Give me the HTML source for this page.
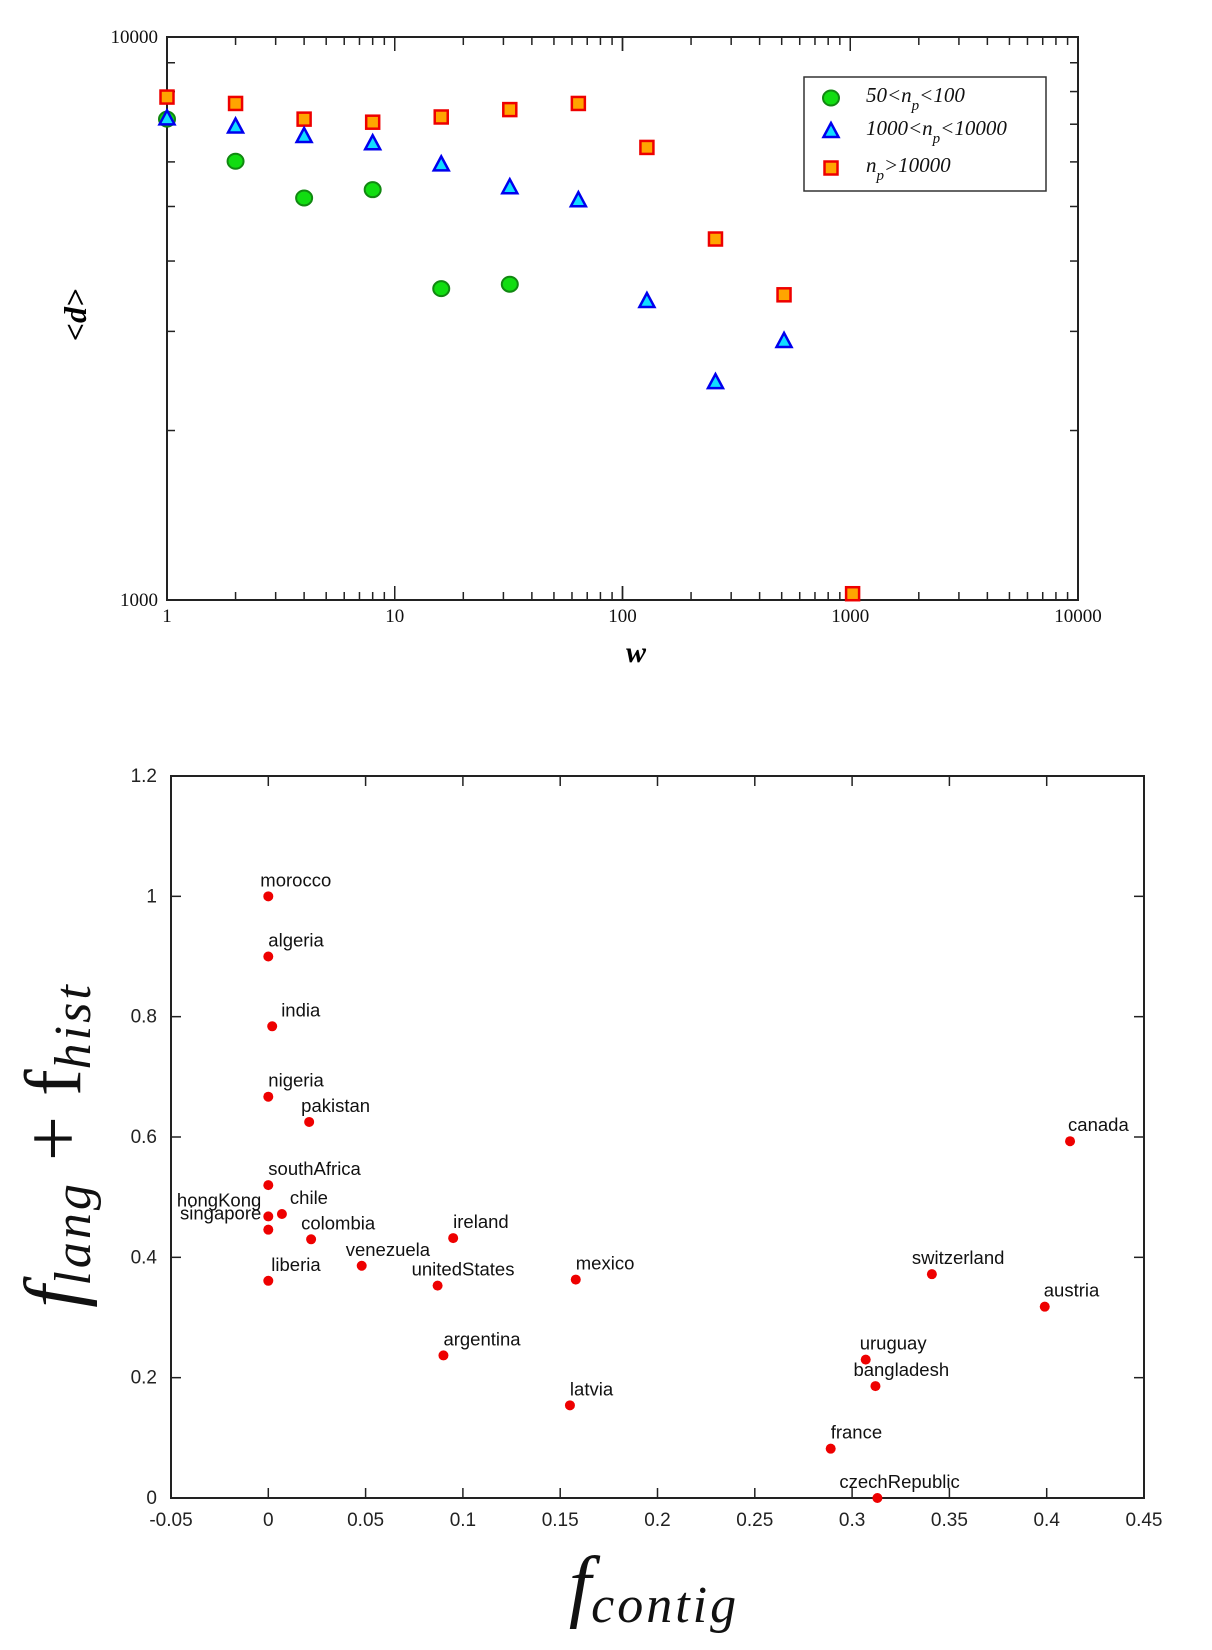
<!DOCTYPE html>
<html><head><meta charset="utf-8"><style>
html,body{margin:0;padding:0;background:#fff;}
svg{display:block;}
.serif{font-family:"Liberation Serif",serif;}
.sans{font-family:"Liberation Sans",sans-serif;}
</style></head><body>
<svg id="chart" width="1212" height="1650" viewBox="0 0 1212 1650" xmlns="http://www.w3.org/2000/svg">
<g id="topChart"></g>
<g id="botChart"></g>
</svg>
<script>
// ---- Top chart data ----
const wGreen = [1, 2, 4, 8, 16, 32];
const dGreen = [7147, 6016, 5177, 5356, 3573, 3638];
const wBlue = [1, 2, 4, 8, 16, 32, 64, 128, 256, 512];
const dBlue = [7170, 6935, 6670, 6475, 5940, 5410, 5130, 3397, 2438, 2885];
const wRed = [1, 2, 4, 8, 16, 32, 64, 128, 256, 512, 1024];
const dRed = [7822, 7620, 7147, 7058, 7210, 7431, 7620, 6366, 4377, 3484, 1026];
const xTickLabels = ["1", "10", "100", "1000", "10000"];
const yTickLabels = ["1000", "10000"];
const legendLabels = ["50<n", "1000<n", "n"];

// ---- Bottom chart data ----
const countries = ["morocco","algeria","india","nigeria","pakistan","southAfrica","hongKong","chile","singapore","colombia","ireland","venezuela","liberia","unitedStates","mexico","argentina","latvia","switzerland","canada","austria","uruguay","bangladesh","france","czechRepublic"];
const fContig = [0,0,0.002,0,0.021,0,0,0.007,0,0.022,0.095,0.048,0,0.087,0.158,0.09,0.155,0.341,0.412,0.399,0.307,0.312,0.289,0.313];
const fLangHist = [1.0,0.9,0.784,0.667,0.625,0.52,0.468,0.472,0.446,0.43,0.432,0.386,0.361,0.353,0.363,0.237,0.154,0.372,0.593,0.318,0.23,0.186,0.082,0];
const bxTicks = [-0.05,0,0.05,0.1,0.15,0.2,0.25,0.3,0.35,0.4,0.45];
const byTicks = [0,0.2,0.4,0.6,0.8,1,1.2];

const NS = "http://www.w3.org/2000/svg";
function mk(parent, tag, attrs, text){
  const e = document.createElementNS(NS, tag);
  for (const k in attrs) e.setAttribute(k, attrs[k]);
  if (text !== undefined) e.textContent = text;
  parent.appendChild(e);
  return e;
}

// ===== TOP CHART =====
const topG = document.getElementById('topChart');
const TL=167, TR=1078, TT=37, TB=600;
const tx = w => TL + Math.log10(w) / 4 * (TR - TL);
const ty = d => TB - (Math.log10(d) - 3) * (TB - TT);

let frame = mk(topG,'rect',{x:TL,y:TT,width:TR-TL,height:TB-TT,fill:'none',stroke:'#222','stroke-width':2});



for (let dec=0; dec<4; dec++){
  for (let m=1; m<=10; m++){
    const v = Math.pow(10,dec)*m;
    const x = tx(v);
    const len = (m===1||m===10)?14:8;
    mk(topG,'line',{x1:x,y1:TB,x2:x,y2:TB-len,stroke:'#222','stroke-width':1.5});
    mk(topG,'line',{x1:x,y1:TT,x2:x,y2:TT+len,stroke:'#222','stroke-width':1.5});
  }
}
for (let m=2; m<=9; m++){
  const y = ty(1000*m);
  mk(topG,'line',{x1:TL,y1:y,x2:TL+8,y2:y,stroke:'#222','stroke-width':1.5});
  mk(topG,'line',{x1:TR,y1:y,x2:TR-8,y2:y,stroke:'#222','stroke-width':1.5});
}
xTickLabels.forEach((lab,i)=>{
  const t = mk(topG,'text',{x:tx(Math.pow(10,i)),y:622,'text-anchor':'middle','font-size':19,class:'serif',fill:'#111'},lab);
  
  
});
yTickLabels.forEach((lab,i)=>{
  const t = mk(topG,'text',{x:158,y:ty(Math.pow(10,i+3))+6,'text-anchor':'end','font-size':19,class:'serif',fill:'#111'},lab);
  
  
});
let xt = mk(topG,'text',{x:636,y:662,'text-anchor':'middle','font-size':30,'font-style':'italic','font-weight':'bold',class:'serif'},'w');


let yt = mk(topG,'text',{x:0,y:0,'text-anchor':'middle','font-size':32,'font-style':'italic','font-weight':'bold',class:'serif',transform:'translate(86,315) rotate(-90)'},'<d>');



function circle(g,x,y){ return mk(g,'ellipse',{cx:x,cy:y,rx:8,ry:7.5,fill:'#11dd11',stroke:'#118811','stroke-width':2}); }
function tri(g,x,y){ return mk(g,'polygon',{points:`${x},${y-8} ${x-7.5},${y+6} ${x+7.5},${y+6}`,fill:'#11ddff',stroke:'#0000ee','stroke-width':2.5}); }
function sq(g,x,y){ return mk(g,'rect',{x:x-6.5,y:y-6.5,width:13,height:13,fill:'#ffa500',stroke:'#ee0000','stroke-width':2.5}); }

const gR = mk(topG,'g',{});


wRed.forEach((w,i)=>{ const e=sq(gR,tx(w),ty(dRed[i]));
  
   });
const gG = mk(topG,'g',{});


wGreen.forEach((w,i)=>{ const e=circle(gG,tx(w),ty(dGreen[i]));
  
   });
const gB = mk(topG,'g',{});


wBlue.forEach((w,i)=>{ const e=tri(gB,tx(w),ty(dBlue[i]));
  
   });

// legend
const lg = mk(topG,'g',{});


mk(lg,'rect',{x:804,y:77,width:242,height:114,fill:'#fff',stroke:'#333','stroke-width':1.5});
const legY = [98,131,168];
const legTail = ["<100","<10000",">10000"];
const markers = [circle, tri, sq];
legendLabels.forEach((lab,i)=>{
  const ge = mk(lg,'g',{});
  
  
  markers[i](ge,831,legY[i]);
  const t = mk(ge,'text',{x:866,y:legY[i]+4,'font-size':21,'font-style':'italic',class:'serif',fill:'#111'});
  t.appendChild(document.createTextNode(lab));
  mk(t,'tspan',{dy:8,'font-size':15},'p');
  mk(t,'tspan',{dy:-8},legTail[i]);
});

// ===== BOTTOM CHART =====
const botG = document.getElementById('botChart');
const BL=171, BR=1144, BT=776, BB=1498;
const bx = v => BL + (v + 0.05) / 0.5 * (BR - BL);
const by = v => BB - v / 1.2 * (BB - BT);
let bf = mk(botG,'rect',{x:BL,y:BT,width:BR-BL,height:BB-BT,fill:'none',stroke:'#222','stroke-width':2});


bxTicks.forEach(v=>{
  const x = bx(v);
  mk(botG,'line',{x1:x,y1:BB,x2:x,y2:BB-10,stroke:'#222','stroke-width':1.5});
  mk(botG,'line',{x1:x,y1:BT,x2:x,y2:BT+10,stroke:'#222','stroke-width':1.5});
  const t = mk(botG,'text',{x:x,y:1526,'text-anchor':'middle','font-size':19,class:'sans',fill:'#222'},String(v));
  
  
});
byTicks.forEach(v=>{
  const y = by(v);
  mk(botG,'line',{x1:BL,y1:y,x2:BL+10,y2:y,stroke:'#222','stroke-width':1.5});
  mk(botG,'line',{x1:BR,y1:y,x2:BR-10,y2:y,stroke:'#222','stroke-width':1.5});
  const t = mk(botG,'text',{x:157,y:y+6,'text-anchor':'end','font-size':19,class:'sans',fill:'#222'},String(v));
  
  
});
const labelDx = {morocco:-8,india:9,chile:8,pakistan:-8,venezuela:-16,unitedStates:-26,liberia:3,colombia:-10,czechRepublic:-38,bangladesh:-22,uruguay:-6,switzerland:-20,austria:-1,canada:-2};
countries.forEach((c,i)=>{
  const g = mk(botG,'g',{});
  
  
  const x = bx(fContig[i]), y = by(fLangHist[i]);
  mk(g,'circle',{cx:x,cy:y,r:5,fill:'#ee0000'});
  let dx = labelDx[c] !== undefined ? labelDx[c] : 0;
  let anchor = 'start', lx = x + dx;
  if (c==='hongKong'||c==='singapore'){ anchor='end'; lx = x - 7; }
  const t = mk(g,'text',{x:lx,y:y-10,'text-anchor':anchor,'font-size':18.5,class:'sans',fill:'#111','textLength':'' });
  t.removeAttribute('textLength');
  t.textContent = c;
  
  
});
let bxt = mk(botG,'text',{x:654,y:1612,'text-anchor':'middle','font-size':80,'font-style':'italic',class:'serif',fill:'#111'});


bxt.appendChild(document.createTextNode('f'));
mk(bxt,'tspan',{dy:10,'font-size':52,'letter-spacing':3},'contig');
let byt = mk(botG,'text',{x:0,y:0,'text-anchor':'middle','font-size':80,'font-style':'italic',class:'serif',fill:'#111',transform:'translate(80,1145) rotate(-90)'});


byt.appendChild(document.createTextNode('f'));
mk(byt,'tspan',{dy:10,'font-size':52,'letter-spacing':3},'lang');
mk(byt,'tspan',{dy:-10,'font-style':'normal'},' + f');
mk(byt,'tspan',{dy:10,'font-size':52,'letter-spacing':3},'hist');
</script>
</body></html>
